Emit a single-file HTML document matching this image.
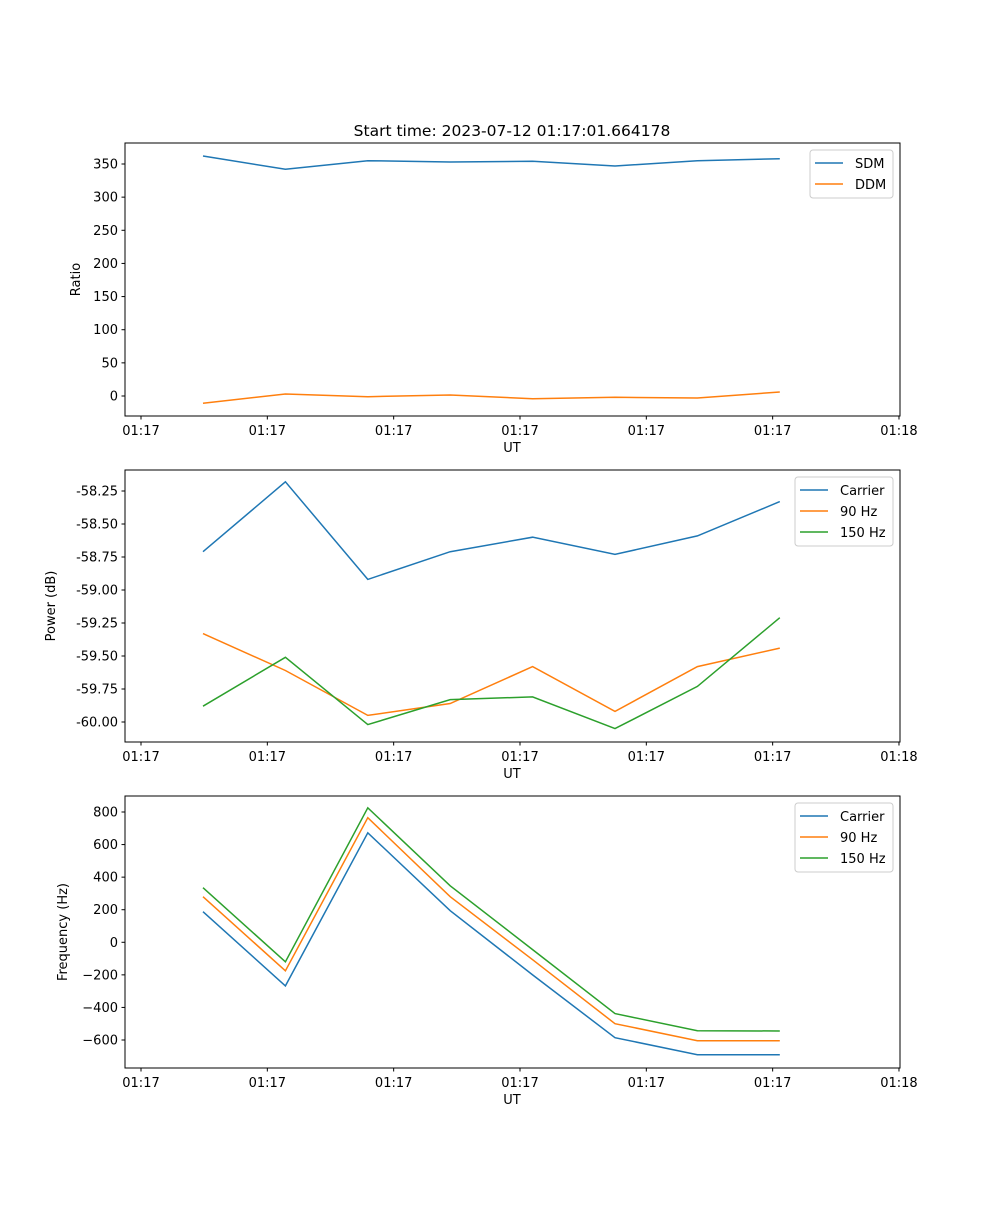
<!DOCTYPE html>
<html><head><meta charset="utf-8"><style>
body{margin:0;background:#fff;}
svg text{font-family:"DejaVu Sans","Liberation Sans",sans-serif;fill:#000;}
</style></head><body>
<svg id="fig" width="1000" height="1200" xmlns="http://www.w3.org/2000/svg"></svg>
<script>
const xTickLabels = ["01:17","01:17","01:17","01:17","01:17","01:17","01:18"];
const xIdx = [0,1,2,3,4,5,6,7];
const ratioTicks = [0,50,100,150,200,250,300,350];
const sdm = [362,342,355,353,354,347,355,358];
const ddm = [-11,3,-1,1.5,-4,-2,-3,6];
const powerTicks = [-60.00,-59.75,-59.50,-59.25,-59.00,-58.75,-58.50,-58.25];
const powCarrier = [-58.71,-58.18,-58.92,-58.71,-58.60,-58.73,-58.59,-58.33];
const pow90 = [-59.33,-59.61,-59.95,-59.86,-59.58,-59.92,-59.58,-59.44];
const pow150 = [-59.88,-59.51,-60.02,-59.83,-59.81,-60.05,-59.73,-59.21];
const freqTicks = [-600,-400,-200,0,200,400,600,800];
const freqCarrier = [188,-268,672,194,-200,-586,-690,-690];
const freq90 = [280,-175,765,280,-107,-500,-604,-604];
const freq150 = [335,-120,826,347,-45,-438,-543,-545];

const NS="http://www.w3.org/2000/svg";
const svg=document.getElementById('fig');
function el(tag,attrs,parent){const e=document.createElementNS(NS,tag);for(const k in attrs)e.setAttribute(k,attrs[k]);(parent||svg).appendChild(e);return e;}
const L=125,R=900;
// x: tick i at 141 + i*126.3 ; data j at 203 + j*82.2
function xTick(i){return 141+i*126.33;}
function xData(j){return 203+j*82.4;}

function panel(name,top,bot,v0,p0,v1,p1,ticks,fmt,ylabel,ylabX,series,legend){
  const g=el('g',{});
  
  
  const y=v=>p0+(v-v0)*(p1-p0)/(v1-v0);
  el('rect',{x:L,y:top,width:R-L,height:bot-top,fill:'none',stroke:'#000','stroke-width':1},g);
  ticks.forEach(t=>{const yy=y(t);
    el('line',{x1:L-3.5,x2:L,y1:yy,y2:yy,stroke:'#000'},g);
    const tx=el('text',{x:L-7,y:yy+4.5,'text-anchor':'end','font-size':13},g);tx.textContent=fmt(t);
    });
  xTickLabels.forEach((lab,i)=>{const xx=xTick(i);
    el('line',{x1:xx,x2:xx,y1:bot,y2:bot+3.5,stroke:'#000'},g);
    const tx=el('text',{x:xx,y:bot+19,'text-anchor':'middle','font-size':13},g);tx.textContent=lab;
    });
  const xl=el('text',{x:512,y:bot+36,'text-anchor':'middle','font-size':13},g);xl.textContent='UT';
  
  const yc=(top+bot)/2;
  const yl=el('text',{x:ylabX,y:yc,'text-anchor':'middle','font-size':13,transform:`rotate(-90 ${ylabX} ${yc})`},g);yl.textContent=ylabel;
  
  series.forEach(s=>{
    const pts=s.data.map((v,j)=>xData(xIdx[j]).toFixed(1)+','+y(v).toFixed(1)).join(' ');
    const pl=el('polyline',{points:pts,fill:'none',stroke:s.color,'stroke-width':1.5},g);
    
  });
  const lg=el('g',{},g);
  
  el('rect',{x:legend.x,y:legend.y,width:legend.w,height:series.length*21+6,rx:3,fill:'#fff',stroke:'#ccc'},lg);
  series.forEach((s,i)=>{const ry=legend.y+13+i*21;
    el('line',{x1:legend.x+5,x2:legend.x+33,y1:ry,y2:ry,stroke:s.color,'stroke-width':1.5},lg);
    const t=el('text',{x:legend.x+45,y:ry+5,'font-size':13},lg);t.textContent=s.label;
    });
}
const C1='#1f77b4',C2='#ff7f0e',C3='#2ca02c';
const title=el('text',{x:512,y:136,'text-anchor':'middle','font-size':15.5});
title.textContent='Start time: 2023-07-12 01:17:01.664178';


panel('ratio-panel',143,416,0,396,350,164,ratioTicks,v=>String(v),'Ratio',80,
  [{key:'sdm',label:'SDM',data:sdm,color:C1},{key:'ddm',label:'DDM',data:ddm,color:C2}],{x:810,y:150,w:83});
panel('power-panel',470,742,-60,722,-58.25,491,powerTicks,v=>v.toFixed(2),'Power (dB)',55,
  [{key:'carrier',label:'Carrier',data:powCarrier,color:C1},{key:'90hz',label:'90 Hz',data:pow90,color:C2},{key:'150hz',label:'150 Hz',data:pow150,color:C3}],{x:795,y:477,w:98});
panel('frequency-panel',796,1068,-600,1040,800,812,freqTicks,v=>v<0?'\u2212'+(-v):String(v),'Frequency (Hz)',67,
  [{key:'carrier',label:'Carrier',data:freqCarrier,color:C1},{key:'90hz',label:'90 Hz',data:freq90,color:C2},{key:'150hz',label:'150 Hz',data:freq150,color:C3}],{x:795,y:803,w:98});
</script>
</body></html>
